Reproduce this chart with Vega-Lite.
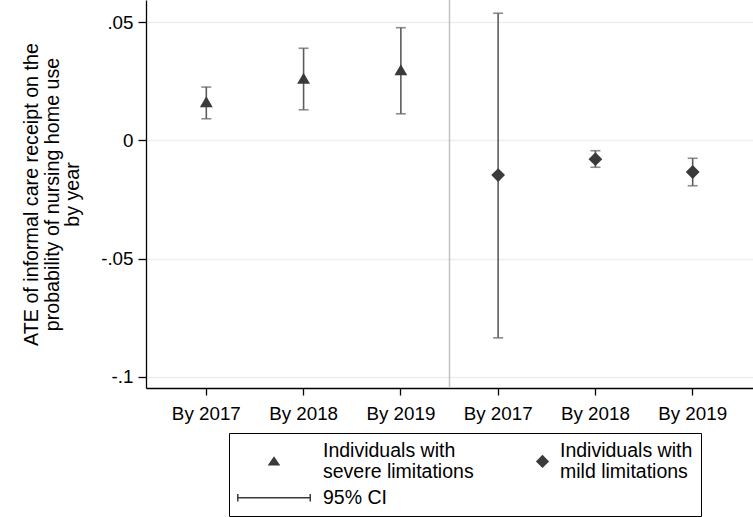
{
  "$schema": "https://vega.github.io/schema/vega-lite/v6.json",
  "autosize": {"type": "none"},
  "padding": {"left": 146, "top": 0, "right": 0, "bottom": 129},
  "width": 607,
  "height": 388,
  "background": "white",
  "config": {
    "view": {"stroke": null},
    "font": "Liberation Sans",
    "axis": {
      "labelFont": "Liberation Sans",
      "titleFont": "Liberation Sans",
      "labelColor": "black",
      "titleColor": "black",
      "domainColor": "black",
      "tickColor": "black",
      "domainWidth": 1.3,
      "tickWidth": 1.3
    },
    "legend": {
      "labelFont": "Liberation Sans",
      "labelColor": "black"
    }
  },
  "data": {
    "values": [
      {"cat": "severe|By 2017", "group": "severe", "est": 0.0163, "lo": 0.0091, "hi": 0.0225},
      {"cat": "severe|By 2018", "group": "severe", "est": 0.0262, "lo": 0.0129, "hi": 0.0389},
      {"cat": "severe|By 2019", "group": "severe", "est": 0.0298, "lo": 0.0112, "hi": 0.0476},
      {"cat": "mild|By 2017", "group": "mild", "est": -0.0147, "lo": -0.0835, "hi": 0.0537},
      {"cat": "mild|By 2018", "group": "mild", "est": -0.0080, "lo": -0.0114, "hi": -0.0044},
      {"cat": "mild|By 2019", "group": "mild", "est": -0.0134, "lo": -0.0192, "hi": -0.0076}
    ]
  },
  "encoding": {
    "x": {
      "field": "cat",
      "type": "nominal",
      "scale": {
        "type": "band",
        "domain": ["severe|By 2017", "severe|By 2018", "severe|By 2019", "mild|By 2017", "mild|By 2018", "mild|By 2019"],
        "paddingInner": 0,
        "paddingOuter": 0.12
      },
      "axis": {
        "title": null,
        "labelAngle": 0,
        "labelFontSize": 18.8,
        "labelPadding": 9.5,
        "tickSize": 7,
        "grid": false,
        "labelExpr": "replace(replace(datum.label, 'severe|', ''), 'mild|', '')"
      }
    }
  },
  "layer": [
    {
      "transform": [{"filter": "datum.cat == 'mild|By 2017'"}],
      "mark": {"type": "rule", "color": "#c2c2c2", "strokeWidth": 1.5},
      "encoding": {"x": {"field": "cat", "type": "nominal", "bandPosition": 0}}
    },
    {
      "data": {"values": [{}]},
      "mark": {"type": "rule", "color": "black", "strokeWidth": 1.6},
      "encoding": {
        "y": {
          "datum": 0,
          "type": "quantitative",
          "scale": {"domain": [-0.1047, 0.0593], "nice": false, "zero": false},
          "axis": {
            "values": [-0.1, -0.05, 0, 0.05],
            "labelExpr": "(datum.value < 0 ? '-' : '') + replace(format(abs(datum.value), '.2~f'), '0.', '.')",
            "labelFontSize": 18.8,
            "labelPadding": 5,
            "tickSize": 8,
            "grid": true,
            "gridColor": "#e8eef1",
            "gridWidth": 1.3,
            "title": ["ATE of informal care receipt on the", "probability of nursing home use", "by year"],
            "titleFontSize": 19.7,
            "titleFontWeight": "normal",
            "titleLineHeight": 20.5,
            "titlePadding": 18
          }
        }
      }
    },
    {
      "mark": {"type": "rule", "color": "#5c5c5c", "strokeWidth": 1.6},
      "encoding": {
        "y": {"field": "lo", "type": "quantitative"},
        "y2": {"field": "hi"}
      }
    },
    {
      "mark": {"type": "tick", "orient": "horizontal", "size": 10, "thickness": 1.6, "color": "#5c5c5c"},
      "encoding": {"y": {"field": "lo", "type": "quantitative"}}
    },
    {
      "mark": {"type": "tick", "orient": "horizontal", "size": 10, "thickness": 1.6, "color": "#5c5c5c"},
      "encoding": {"y": {"field": "hi", "type": "quantitative"}}
    },
    {
      "transform": [{"filter": "datum.group == 'severe'"}],
      "mark": {"type": "point", "shape": "triangle-up", "filled": true, "size": 165, "color": "#3a3a3a", "opacity": 1},
      "encoding": {"y": {"field": "est", "type": "quantitative"}}
    },
    {
      "transform": [{"filter": "datum.group == 'mild'"}],
      "mark": {"type": "point", "shape": "diamond", "filled": true, "size": 190, "color": "#3a3a3a", "opacity": 1},
      "encoding": {"y": {"field": "est", "type": "quantitative"}}
    },
    {
      "mark": {"type": "point", "filled": true, "opacity": 0, "color": "#3a3a3a"},
      "encoding": {
        "y": {"field": "est", "type": "quantitative"},
        "shape": {
          "field": "group",
          "type": "nominal",
          "scale": {
            "domain": ["severe", "mild", "ci"],
            "range": [
              "M4.54,0.9L3.49,2.45L5.59,2.45Z",
              "M8.69,1.75L9.79,0.65L10.89,1.75L9.79,2.85Z",
              "M-1.62,-0.13H10.71V0.13H-1.62ZM-1.62,-0.63H-1.37V0.63H-1.62ZM10.46,-0.63H10.71V0.63H10.46Z"
            ]
          },
          "legend": {
            "title": null,
            "orient": "none",
            "direction": "horizontal",
            "legendX": 83,
            "legendY": 433,
            "columns": 2,
            "padding": 8,
            "strokeColor": "black",
            "fillColor": "white",
            "symbolSize": 144,
            "symbolStrokeWidth": 0,
            "symbolOpacity": 1,
            "symbolFillColor": "#3a3a3a",
            "labelOffset": 66.5,
            "labelFontSize": 19.5,
            "labelLineHeight": 20,
            "labelLimit": 400,
            "columnPadding": 0,
            "rowPadding": 5,
            "labelExpr": "datum.label == 'severe' ? ['Individuals with', 'severe limitations'] : datum.label == 'mild' ? ['Individuals with', 'mild limitations'] : '95% CI'"
          }
        }
      }
    }
  ]
}
